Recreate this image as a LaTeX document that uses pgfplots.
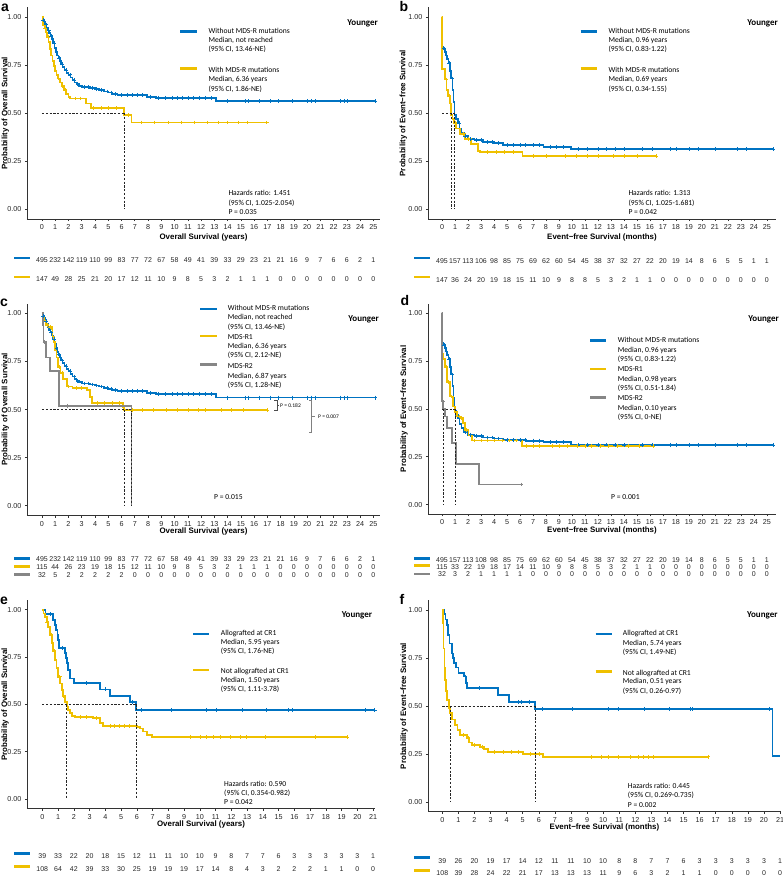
\documentclass[border=0pt]{standalone}
\usepackage{pgfplots}
\usepackage{pgfplotstable}
\pgfplotsset{compat=1.18}
\usepackage{fontspec}
\setmainfont{Liberation Sans}
\newfontfamily\calfont{Carlito}
\definecolor{jblue}{HTML}{0073C2}
\definecolor{jyel}{HTML}{EFC000}
\definecolor{jgray}{HTML}{868686}
\newcommand\tfs{\fontsize{7.2}{8}\selectfont}
\newcommand\lfs{\bfseries\fontsize{7.9}{9}\selectfont}
\newcommand\afs{\calfont\fontsize{7.6}{9}\selectfont}
\newcommand\rfs{\fontsize{7}{8}\selectfont}
\pgfplotsset{
  km/.style={scale only axis, axis lines*=left, clip=false,
    axis line style={black!80, line width=0.55pt},
    every tick/.style={black!80, line width=0.55pt},
    tick align=outside, major tick length=2.2pt,
    ymin=-0.05, ymax=1.05,
    ytick={0,0.25,0.5,0.75,1},
    yticklabels={0.00,0.25,0.50,0.75,1.00},
    tick label style={font=\tfs, text=black!85},
    /pgf/number format/assume math mode=true,
    xlabel style={font=\lfs, anchor=center},
    ylabel style={font=\lfs, anchor=center},
  },
  kmc/.style={const plot, line width=1.75pt, color=#1, mark=none},
  cens/.style={only marks, mark=+, mark size=1.9pt, color=#1, mark options={line width=0.55pt}},
  med/.style={black!85, line width=0.45pt, dash pattern=on 2.2pt off 1.6pt, mark=none},
  rtab/.style={scale only axis, hide axis, height=877pt, ymin=0, ymax=877, at={(#1,0pt)}, anchor=south west},
  rt/.style={draw=none, mark=none, nodes near coords, point meta=explicit symbolic,
    nodes near coords style={font=\rfs, text=black!85, anchor=center, inner sep=0pt}},
}
\newcommand\txt[3]{\node[anchor=west, inner sep=0pt, text height=5.2pt, text depth=1.6pt, font=\afs] at (#1,877-#2) {#3};}
\newcommand\yng[2]{\node[anchor=east, inner sep=0pt, text height=6pt, text depth=2pt, font=\calfont\bfseries\fontsize{9}{10}\selectfont] at (#1,877-#2) {Younger};}
\newcommand\plab[3]{\node[inner sep=0pt, font=\bfseries\fontsize{14}{14}\selectfont] at (#1,877-#2) {#3};}
\newcommand\key[4]{\draw[#4, line width=2.6pt] (#1,877-#3) -- (#2,877-#3);}

% ---------- data ----------
\pgfplotstableread{
t p
0 1.0
0.05 0.985
0.15 0.975
0.25 0.96
0.35 0.945
0.45 0.93
0.55 0.915
0.65 0.9
0.75 0.885
0.85 0.865
0.95 0.84
1.05 0.82
1.15 0.80
1.25 0.785
1.35 0.77
1.45 0.755
1.55 0.74
1.7 0.725
1.85 0.71
2.0 0.70
2.15 0.685
2.3 0.672
2.45 0.66
2.6 0.65
2.8 0.642
3.0 0.635
3.6 0.63
4.0 0.625
4.3 0.62
4.7 0.613
5.0 0.607
5.3 0.60
5.7 0.595
7.9 0.585
8.6 0.58
13.1 0.562
25.15 0.562
}\osBlue
\pgfplotstableread{
t p
0.1 0.985
0.3 0.96
0.5 0.93
0.7 0.9
0.9 0.865
1.1 0.82
1.3 0.785
1.5 0.755
1.8 0.725
2.1 0.70
2.4 0.672
2.7 0.65
3.2 0.635
3.5 0.635
3.8 0.63
4.1 0.625
4.5 0.62
4.9 0.613
5.2 0.607
5.5 0.60
6.0 0.595
6.4 0.595
6.8 0.595
7.2 0.595
7.6 0.595
8.2 0.585
8.8 0.58
9.3 0.58
9.8 0.58
10.2 0.58
10.6 0.58
11.0 0.58
11.4 0.58
11.9 0.58
12.3 0.58
12.8 0.58
14.0 0.562
15.3 0.562
15.6 0.562
16.4 0.562
17.2 0.562
17.8 0.562
18.9 0.562
20.0 0.562
20.3 0.562
20.6 0.562
22.5 0.562
22.8 0.562
23.0 0.562
25.15 0.562
}\osBlueC
\pgfplotstableread{
t p
0 0.847
0.1 0.835
0.2 0.82
0.3 0.80
0.4 0.78
0.5 0.76
0.6 0.72
0.7 0.68
0.8 0.62
0.88 0.56
0.96 0.49
1.1 0.47
1.2 0.45
1.35 0.42
1.5 0.40
1.7 0.38
2.0 0.365
2.5 0.36
3.15 0.35
4.0 0.345
4.7 0.336
6.5 0.334
7.8 0.325
9.95 0.312
25.5 0.312
}\efsBlue
\pgfplotstableread{
t p
0.15 0.835
0.35 0.80
0.55 0.76
0.75 0.68
1.3 0.45
1.8 0.38
2.2 0.365
2.6 0.36
3.0 0.36
3.5 0.35
3.9 0.35
4.3 0.345
5.0 0.336
5.5 0.336
6.0 0.336
6.4 0.336
7.0 0.334
7.5 0.334
8.3 0.325
8.8 0.325
9.3 0.325
10.5 0.312
11.2 0.312
12.0 0.312
12.6 0.312
13.3 0.312
14.0 0.312
15.4 0.312
16.2 0.312
17.6 0.312
18.0 0.312
19.0 0.312
19.7 0.312
21.0 0.312
22.7 0.312
23.4 0.312
25.5 0.312
}\efsBlueC

\begin{document}
\begin{tikzpicture}[x=1pt,y=1pt]
\path[use as bounding box] (0,0) rectangle (783,877);

% ================= panel a =================
\begin{axis}[km, at={(27pt,658pt)}, anchor=south west, width=353pt, height=211.6pt,
  xmin=-1.13, xmax=25.5, xtick={0,...,25},
  xlabel={Overall Survival (years)}, ylabel={Probability of Overall Survival},
  xlabel style={at={(axis description cs:0.5,-0.085)}},
  ylabel style={at={(axis description cs:-0.0615,0.5)}}]
\addplot[kmc=jblue] table {\osBlue};
\addplot[cens=jblue] table {\osBlueC};
\addplot[kmc=jyel] coordinates {(0,1.0)(0.05,0.98)(0.1,0.96)(0.2,0.94)(0.3,0.92)(0.4,0.895)(0.5,0.87)(0.6,0.835)(0.7,0.80)(0.8,0.77)(0.9,0.745)(1.0,0.72)(1.1,0.70)(1.2,0.68)(1.35,0.66)(1.5,0.64)(1.65,0.62)(1.8,0.60)(2.0,0.585)(2.1,0.576)(3.3,0.55)(3.7,0.526)(6.2,0.49)(6.75,0.452)(16.95,0.452)};
\addplot[cens=jyel] coordinates {(0.25,0.94)(0.45,0.895)(0.65,0.835)(0.95,0.745)(1.25,0.68)(1.55,0.64)(1.75,0.62)(2.5,0.576)(2.9,0.576)(3.9,0.526)(4.5,0.526)(5.0,0.526)(5.6,0.526)(6.5,0.49)(7.5,0.452)(8.5,0.452)(9.5,0.452)(10.5,0.452)(11.5,0.452)(12.5,0.452)(13.3,0.452)(14.0,0.452)(14.8,0.452)(15.5,0.452)(16.95,0.452)};
\addplot[med] coordinates {(0,0.5)(6.2,0.5)};
\addplot[med] coordinates {(6.2,0.5)(6.2,0)};
\end{axis}
\begin{axis}[rtab=27pt, width=353pt, xmin=-1.13, xmax=25.5]
\addplot[rt] table[header=false, x expr=\coordindex, y expr=617, meta index=0, row sep=\\] {495\\232\\142\\119\\110\\99\\83\\77\\72\\67\\58\\49\\41\\39\\33\\29\\23\\21\\21\\16\\9\\7\\6\\6\\2\\1\\};
\addplot[rt] table[header=false, x expr=\coordindex, y expr=598, meta index=0, row sep=\\] {147\\49\\28\\25\\21\\20\\17\\12\\11\\10\\9\\8\\5\\3\\2\\1\\1\\1\\0\\0\\0\\0\\0\\0\\0\\0\\};
\end{axis}
\plab{5}{7.5}{a}
\yng{378}{24}
\key{180}{196.7}{31.7}{jblue}
\key{180}{196.7}{68.3}{jyel}
\txt{208.3}{31.7}{Without MDS-R mutations}
\txt{208.3}{40.7}{Median, not reached}
\txt{208.3}{50}{(95\% CI, 13.46-NE)}
\txt{208.3}{70.7}{With MDS-R mutations}
\txt{208.3}{80}{Median, 6.36 years}
\txt{208.3}{89.3}{(95\% CI, 1.86-NE)}
\txt{228.3}{194}{Hazards ratio: 1.451}
\txt{228.3}{203.3}{(95\% CI, 1.025-2.054)}
\txt{228.3}{212.3}{P = 0.035}
\key{14}{30}{258}{jblue}
\key{14}{30}{277}{jyel}

% ================= panel b =================
\begin{axis}[km, at={(428pt,658pt)}, anchor=south west, width=348pt, height=211.6pt,
  xmin=-1.08, xmax=25.7, xtick={0,...,25},
  xlabel={Event−free Survival (months)}, ylabel={Probability of Event−free Survival},
  xlabel style={at={(axis description cs:0.5,-0.085)}},
  ylabel style={at={(axis description cs:-0.071,0.5)}}]
\addplot[kmc=jblue] table {\efsBlue};
\addplot[cens=jblue] table {\efsBlueC};
\addplot[kmc=jyel] coordinates {(0,1.0)(0.02,0.73)(0.2,0.675)(0.35,0.62)(0.45,0.59)(0.6,0.55)(0.67,0.52)(0.69,0.49)(0.8,0.47)(0.9,0.45)(1.1,0.42)(1.4,0.39)(1.74,0.365)(2.2,0.34)(2.77,0.305)(2.9,0.297)(6.2,0.278)(16.5,0.278)};
\addplot[cens=jyel] coordinates {(0.3,0.675)(0.55,0.59)(1.0,0.45)(1.6,0.39)(2.0,0.365)(3.5,0.297)(4.2,0.297)(4.8,0.297)(5.5,0.297)(7.0,0.278)(8.0,0.278)(9.5,0.278)(10.3,0.278)(11.2,0.278)(12.0,0.278)(13.2,0.278)(14.0,0.278)(15.0,0.278)(16.5,0.278)};
\addplot[med] coordinates {(0,0.5)(0.96,0.5)};
\addplot[med] coordinates {(0.69,0.5)(0.69,0)};
\addplot[med] coordinates {(0.96,0.5)(0.96,0)};
\end{axis}
\begin{axis}[rtab=428pt, width=348pt, xmin=-1.08, xmax=25.7]
\addplot[rt] table[header=false, x expr=\coordindex, y expr=616, meta index=0, row sep=\\] {495\\157\\113\\106\\98\\85\\75\\69\\62\\60\\54\\45\\38\\37\\32\\27\\22\\20\\19\\14\\8\\6\\5\\5\\1\\1\\};
\addplot[rt] table[header=false, x expr=\coordindex, y expr=596.5, meta index=0, row sep=\\] {147\\36\\24\\20\\19\\18\\15\\11\\10\\9\\8\\8\\5\\3\\2\\1\\1\\0\\0\\0\\0\\0\\0\\0\\0\\0\\};
\end{axis}
\plab{404}{7}{b}
\yng{778}{24}
\key{580.7}{596.7}{31.7}{jblue}
\key{580.7}{596.7}{68.3}{jyel}
\txt{608.3}{31.7}{Without MDS-R mutations}
\txt{608.3}{40.7}{Median, 0.96 years}
\txt{608.3}{50}{(95\% CI, 0.83-1.22)}
\txt{608.3}{70.7}{With MDS-R mutations}
\txt{608.3}{80}{Median, 0.69 years}
\txt{608.3}{89.3}{(95\% CI, 0.34-1.55)}
\txt{628.3}{194}{Hazards ratio: 1.313}
\txt{628.3}{203.3}{(95\% CI, 1.025-1.681)}
\txt{628.3}{212.3}{P = 0.042}
\key{414}{430}{258}{jblue}
\key{414}{430}{277}{jyel}

% ================= panel c =================
\begin{axis}[km, at={(27pt,361.6pt)}, anchor=south west, width=353pt, height=211.7pt,
  xmin=-1.13, xmax=25.5, xtick={0,...,25},
  xlabel={Overall Survival (years)}, ylabel={Probability of Overall Survival},
  xlabel style={at={(axis description cs:0.5,-0.074)}},
  ylabel style={at={(axis description cs:-0.0615,0.5)}}]
\addplot[kmc=jblue] table {\osBlue};
\addplot[cens=jblue] table {\osBlueC};
\addplot[kmc=jyel] coordinates {(0,1.0)(0.05,0.98)(0.15,0.96)(0.3,0.94)(0.5,0.93)(0.73,0.92)(0.8,0.88)(0.9,0.85)(1.0,0.81)(1.1,0.77)(1.23,0.72)(1.4,0.69)(1.6,0.66)(1.86,0.62)(2.3,0.61)(3.4,0.60)(3.6,0.565)(3.75,0.535)(6.1,0.515)(6.2,0.497)(16.97,0.497)};
\addplot[cens=jyel] coordinates {(0.4,0.94)(0.6,0.93)(1.3,0.72)(1.5,0.69)(2.0,0.62)(2.6,0.61)(3.0,0.61)(4.2,0.535)(4.7,0.535)(5.3,0.535)(5.8,0.535)(6.8,0.497)(7.6,0.497)(8.4,0.497)(9.4,0.497)(10.2,0.497)(11.0,0.497)(11.8,0.497)(12.3,0.497)(13.5,0.497)(14.3,0.497)(15.2,0.497)(16.97,0.497)};
\addplot[kmc=jgray] coordinates {(0,1.0)(0.05,0.94)(0.12,0.85)(0.33,0.77)(0.58,0.70)(1.28,0.52)(6.75,0.0)};
\addplot[cens=jgray] coordinates {(0.2,0.85)(1.9,0.52)};
\addplot[med] coordinates {(0,0.5)(6.75,0.5)};
\addplot[med] coordinates {(6.2,0.5)(6.2,0)};
\addplot[med] coordinates {(6.75,0.5)(6.75,0)};
\end{axis}
\begin{axis}[rtab=27pt, width=353pt, xmin=-1.13, xmax=25.5]
\addplot[rt] table[header=false, x expr=\coordindex, y expr=318, meta index=0, row sep=\\] {495\\232\\142\\119\\110\\99\\83\\77\\72\\67\\58\\49\\41\\39\\33\\29\\23\\21\\21\\16\\9\\7\\6\\6\\2\\1\\};
\addplot[rt] table[header=false, x expr=\coordindex, y expr=310, meta index=0, row sep=\\] {115\\44\\26\\23\\19\\18\\15\\12\\11\\10\\9\\8\\5\\3\\2\\1\\1\\1\\0\\0\\0\\0\\0\\0\\0\\0\\};
\addplot[rt] table[header=false, x expr=\coordindex, y expr=302, meta index=0, row sep=\\] {32\\5\\2\\2\\2\\2\\2\\0\\0\\0\\0\\0\\0\\0\\0\\0\\0\\0\\0\\0\\0\\0\\0\\0\\0\\0\\};
\end{axis}
\plab{4}{303}{c}
\yng{379}{319.3}
\key{200}{216.7}{309}{jblue}
\key{200}{216.7}{336}{jyel}
\key{200}{216.7}{364.3}{jgray}
\txt{227.7}{309}{Without MDS-R mutations}
\txt{227.7}{318}{Median, not reached}
\txt{227.7}{327.3}{(95\% CI, 13.46-NE)}
\txt{227.7}{337.7}{MDS-R1}
\txt{227.7}{347}{Median, 6.36 years}
\txt{227.7}{356}{(95\% CI, 2.12-NE)}
\txt{227.7}{366.7}{MDS-R2}
\txt{227.7}{376.3}{Median, 6.87 years}
\txt{227.7}{385.3}{(95\% CI, 1.28-NE)}
\draw[black!70, line width=0.45pt] (274,877-400) -- (277,877-400) -- (277,877-410) -- (274,877-410);
\draw[black!70, line width=0.45pt] (277,877-405) -- (279,877-405);
\node[anchor=west, inner sep=0pt, font=\calfont\fontsize{5.5}{6}\selectfont] at (280,877-405.5) {P = 0.182};
\draw[black!50, line width=0.45pt] (309,877-400) -- (311.7,877-400) -- (311.7,877-432) -- (309,877-432);
\draw[black!50, line width=0.45pt] (311.7,877-416.5) -- (315,877-416.5);
\node[anchor=west, inner sep=0pt, font=\calfont\fontsize{5.5}{6}\selectfont] at (318,877-416.7) {P = 0.007};
\txt{214}{497.5}{P = 0.015}
\key{14}{30}{558.5}{jblue}
\key{14}{30}{566.7}{jyel}
\key{14}{30}{574.3}{jgray}

% ================= panel d =================
\begin{axis}[km, at={(428pt,362.9pt)}, anchor=south west, width=348pt, height=210.4pt,
  xmin=-1.08, xmax=25.7, xtick={0,...,25},
  xlabel={Event−free Survival (months)}, ylabel={Probability of Event−free Survival},
  xlabel style={at={(axis description cs:0.5,-0.080)}},
  ylabel style={at={(axis description cs:-0.069,0.5)}}]
\addplot[kmc=jblue] table {\efsBlue};
\addplot[cens=jblue] table {\efsBlueC};
\addplot[kmc=jyel] coordinates {(0,0.79)(0.1,0.76)(0.23,0.72)(0.41,0.64)(0.62,0.565)(0.87,0.512)(0.98,0.485)(1.13,0.46)(1.45,0.451)(1.59,0.425)(1.77,0.39)(2.03,0.363)(2.28,0.335)(6.13,0.305)(16.26,0.305)};
\addplot[cens=jyel] coordinates {(0.3,0.72)(0.5,0.64)(0.7,0.565)(1.3,0.46)(1.5,0.451)(1.9,0.39)(2.5,0.335)(3.0,0.335)(3.5,0.335)(4.0,0.335)(4.6,0.335)(5.2,0.335)(5.7,0.335)(6.5,0.305)(7.0,0.305)(7.5,0.305)(8.5,0.305)(9.0,0.305)(9.6,0.305)(10.4,0.305)(11.0,0.305)(11.5,0.305)(12.2,0.305)(12.8,0.305)(13.5,0.305)(14.3,0.305)(15.2,0.305)(16.26,0.305)};
\addplot[kmc=jgray] coordinates {(0,1.0)(0.02,0.54)(0.1,0.50)(0.23,0.46)(0.41,0.40)(0.74,0.32)(1.08,0.21)(2.87,0.105)(6.1,0.105)};
\addplot[cens=jgray] coordinates {(0.05,0.54)(6.1,0.105)};
\addplot[med] coordinates {(0,0.5)(0.98,0.5)};
\addplot[med] coordinates {(0.1,0.5)(0.1,0)};
\addplot[med] coordinates {(0.98,0.5)(0.98,0)};
\end{axis}
\begin{axis}[rtab=428pt, width=348pt, xmin=-1.08, xmax=25.7]
\addplot[rt] table[header=false, x expr=\coordindex, y expr=317, meta index=0, row sep=\\] {495\\157\\113\\108\\98\\85\\75\\69\\62\\60\\54\\45\\38\\37\\32\\27\\22\\20\\19\\14\\8\\6\\5\\5\\1\\1\\};
\addplot[rt] table[header=false, x expr=\coordindex, y expr=309.7, meta index=0, row sep=\\] {115\\33\\22\\19\\18\\17\\14\\11\\10\\9\\8\\8\\5\\3\\2\\1\\1\\0\\0\\0\\0\\0\\0\\0\\0\\0\\};
\addplot[rt] table[header=false, x expr=\coordindex, y expr=303, meta index=0, row sep=\\] {32\\3\\2\\1\\1\\1\\1\\0\\0\\0\\0\\0\\0\\0\\0\\0\\0\\0\\0\\0\\0\\0\\0\\0\\0\\0\\};
\end{axis}
\plab{405}{301}{d}
\yng{779}{319.3}
\key{590}{606}{340.7}{jblue}
\key{590}{606}{369}{jyel}
\key{590}{606}{397.3}{jgray}
\txt{617.7}{340.7}{Without MDS-R mutations}
\txt{617.7}{350.7}{Median, 0.96 years}
\txt{617.7}{359.3}{(95\% CI, 0.83-1.22)}
\txt{617.7}{369.3}{MDS-R1}
\txt{617.7}{379.3}{Median, 0.98 years}
\txt{617.7}{388.7}{(95\% CI, 0.51-1.84)}
\txt{617.7}{398.3}{MDS-R2}
\txt{617.7}{408.3}{Median, 0.10 years}
\txt{617.7}{417.7}{(95\% CI, 0-NE)}
\txt{611}{497.5}{P = 0.001}
\key{414}{430}{558.5}{jblue}
\key{414}{430}{565.7}{jyel}
\key{414}{430}{574}{jgray}

% ================= panel e =================
\begin{axis}[km, at={(27pt,68.5pt)}, anchor=south west, width=348pt, height=208.3pt,
  xmin=-0.97, xmax=21.12, xtick={0,...,21},
  xlabel={Overall Survival (years)}, ylabel={Probability of Overall Survival},
  xlabel style={at={(axis description cs:0.5,-0.0744)}},
  ylabel style={at={(axis description cs:-0.063,0.5)}}]
\addplot[kmc=jblue] coordinates {(0,1.0)(0.2,0.977)(0.7,0.946)(0.8,0.92)(0.88,0.893)(0.96,0.865)(1.02,0.84)(1.08,0.796)(1.44,0.77)(1.5,0.745)(1.56,0.717)(1.65,0.681)(1.76,0.637)(2.01,0.611)(3.66,0.579)(4.3,0.544)(5.57,0.514)(5.95,0.47)(21.1,0.47)};
\addplot[cens=jblue] coordinates {(0.5,0.977)(1.3,0.796)(2.8,0.611)(4.0,0.579)(5.7,0.514)(6.31,0.47)(8.2,0.47)(10.44,0.47)(11.07,0.47)(12.72,0.47)(14.25,0.47)(15.62,0.47)(15.9,0.47)(20.49,0.47)(21.1,0.47)};
\addplot[kmc=jyel] coordinates {(0,1.0)(0.08,0.98)(0.17,0.963)(0.28,0.935)(0.38,0.91)(0.5,0.865)(0.6,0.822)(0.7,0.78)(0.8,0.734)(0.9,0.69)(1.02,0.646)(1.12,0.61)(1.23,0.576)(1.33,0.545)(1.44,0.514)(1.55,0.488)(1.65,0.47)(1.76,0.453)(1.9,0.44)(2.08,0.433)(3.24,0.426)(3.66,0.40)(3.87,0.387)(6.0,0.38)(6.2,0.373)(6.4,0.356)(6.63,0.338)(6.95,0.326)(19.33,0.326)};
\addplot[cens=jyel] coordinates {(0.3,0.935)(0.55,0.865)(0.75,0.78)(1.1,0.646)(1.35,0.545)(2.4,0.433)(2.8,0.433)(3.4,0.426)(4.3,0.387)(4.6,0.387)(4.9,0.387)(5.2,0.387)(5.5,0.387)(9.38,0.326)(10.0,0.326)(10.44,0.326)(10.86,0.326)(11.29,0.326)(11.92,0.326)(12.55,0.326)(12.98,0.326)(14.14,0.326)(17.31,0.326)(19.33,0.326)};
\addplot[med] coordinates {(0,0.5)(5.95,0.5)};
\addplot[med] coordinates {(1.5,0.5)(1.5,0)};
\addplot[med] coordinates {(5.95,0.5)(5.95,0)};
\end{axis}
\begin{axis}[rtab=27pt, width=348pt, xmin=-0.97, xmax=21.12]
\addplot[rt] table[header=false, x expr=\coordindex, y expr=21, meta index=0, row sep=\\] {39\\33\\22\\20\\18\\15\\12\\11\\11\\10\\10\\9\\8\\7\\7\\6\\3\\3\\3\\3\\3\\1\\};
\addplot[rt] table[header=false, x expr=\coordindex, y expr=8, meta index=0, row sep=\\] {108\\64\\42\\39\\33\\30\\25\\19\\19\\19\\17\\14\\8\\4\\3\\2\\2\\2\\1\\1\\0\\0\\};
\end{axis}
\plab{4}{600.5}{e}
\yng{372.3}{616}
\key{193}{209}{634}{jblue}
\key{193}{209}{670}{jyel}
\txt{220.7}{634}{Allografted at CR1}
\txt{220.7}{643}{Median, 5.95 years}
\txt{220.7}{652}{(95\% CI, 1.76-NE)}
\txt{220.7}{672}{Not allografted at CR1}
\txt{220.7}{681}{Median, 1.50 years}
\txt{220.7}{690}{(95\% CI, 1.11-3.78)}
\txt{224}{784.7}{Hazards ratio: 0.590}
\txt{224}{793.3}{(95\% CI, 0.354-0.982)}
\txt{224}{802.3}{P = 0.042}
\key{14}{30}{853.3}{jblue}
\key{14}{30}{866.7}{jyel}

% ================= panel f =================
\begin{axis}[km, at={(428pt,65.4pt)}, anchor=south west, width=353pt, height=211.2pt,
  xmin=-0.89, xmax=21.06, xtick={0,...,21},
  xlabel={Event−free Survival (months)}, ylabel={Probability of Event−free Survival},
  xlabel style={at={(axis description cs:0.5,-0.073)}},
  ylabel style={at={(axis description cs:-0.068,0.5)}}]
\addplot[kmc=jblue] coordinates {(0,1.0)(0.11,0.979)(0.2,0.95)(0.27,0.922)(0.35,0.87)(0.44,0.826)(0.58,0.774)(0.65,0.75)(0.73,0.722)(0.85,0.70)(1.0,0.67)(1.35,0.653)(1.45,0.62)(1.52,0.592)(3.48,0.557)(4.15,0.522)(5.77,0.484)(20.53,0.241)(21.0,0.241)};
\addplot[cens=jblue] coordinates {(1.4,0.653)(2.3,0.592)(4.73,0.522)(4.93,0.522)(5.39,0.522)(6.19,0.484)(8.06,0.484)(10.34,0.484)(10.96,0.484)(12.56,0.484)(14.14,0.484)(15.42,0.484)(15.52,0.484)(20.35,0.484)};
\addplot[kmc=jyel] coordinates {(0,1.0)(0.02,0.931)(0.08,0.80)(0.13,0.70)(0.17,0.635)(0.24,0.58)(0.31,0.531)(0.4,0.49)(0.48,0.462)(0.6,0.43)(0.79,0.401)(0.95,0.375)(1.1,0.349)(1.52,0.332)(1.65,0.31)(1.83,0.297)(2.34,0.288)(2.6,0.275)(2.86,0.262)(5.04,0.25)(6.28,0.236)(16.55,0.236)};
\addplot[cens=jyel] coordinates {(1.3,0.349)(1.6,0.332)(2.0,0.297)(2.5,0.288)(3.2,0.262)(3.8,0.262)(4.3,0.262)(4.7,0.262)(5.5,0.25)(6.0,0.25)(9.29,0.236)(9.91,0.236)(10.34,0.236)(10.96,0.236)(11.69,0.236)(12.2,0.236)(12.52,0.236)(12.83,0.236)(13.14,0.236)(16.55,0.236)};
\addplot[med] coordinates {(0,0.5)(5.77,0.5)};
\addplot[med] coordinates {(0.51,0.5)(0.51,0)};
\addplot[med] coordinates {(5.77,0.5)(5.77,0)};
\end{axis}
\begin{axis}[rtab=428pt, width=353pt, xmin=-0.89, xmax=21.06]
\addplot[rt] table[header=false, x expr=\coordindex, y expr=16, meta index=0, row sep=\\] {39\\26\\20\\19\\17\\14\\12\\11\\11\\10\\10\\8\\8\\7\\7\\6\\3\\3\\3\\3\\3\\1\\};
\addplot[rt] table[header=false, x expr=\coordindex, y expr=4, meta index=0, row sep=\\] {108\\39\\28\\24\\22\\21\\17\\13\\13\\13\\11\\9\\6\\3\\2\\1\\1\\0\\0\\0\\0\\0\\};
\end{axis}
\plab{402}{599}{f}
\yng{777.7}{616}
\key{595.7}{611.7}{634}{jblue}
\key{595.7}{611.7}{671.7}{jyel}
\txt{622.7}{634}{Allografted at CR1}
\txt{622.7}{643.3}{Median, 5.74 years}
\txt{622.7}{652.7}{(95\% CI, 1.49-NE)}
\txt{622.7}{673.3}{Not allografted at CR1}
\txt{622.7}{682}{Median, 0.51 years}
\txt{622.7}{691.3}{(95\% CI, 0.26-0.97)}
\txt{627.7}{786.7}{Hazards ratio: 0.445}
\txt{627.7}{796}{(95\% CI, 0.269-0.735)}
\txt{627.7}{806}{P = 0.002}
\key{414}{430}{857.3}{jblue}
\key{414}{430}{870.7}{jyel}
\end{tikzpicture}
\end{document}
